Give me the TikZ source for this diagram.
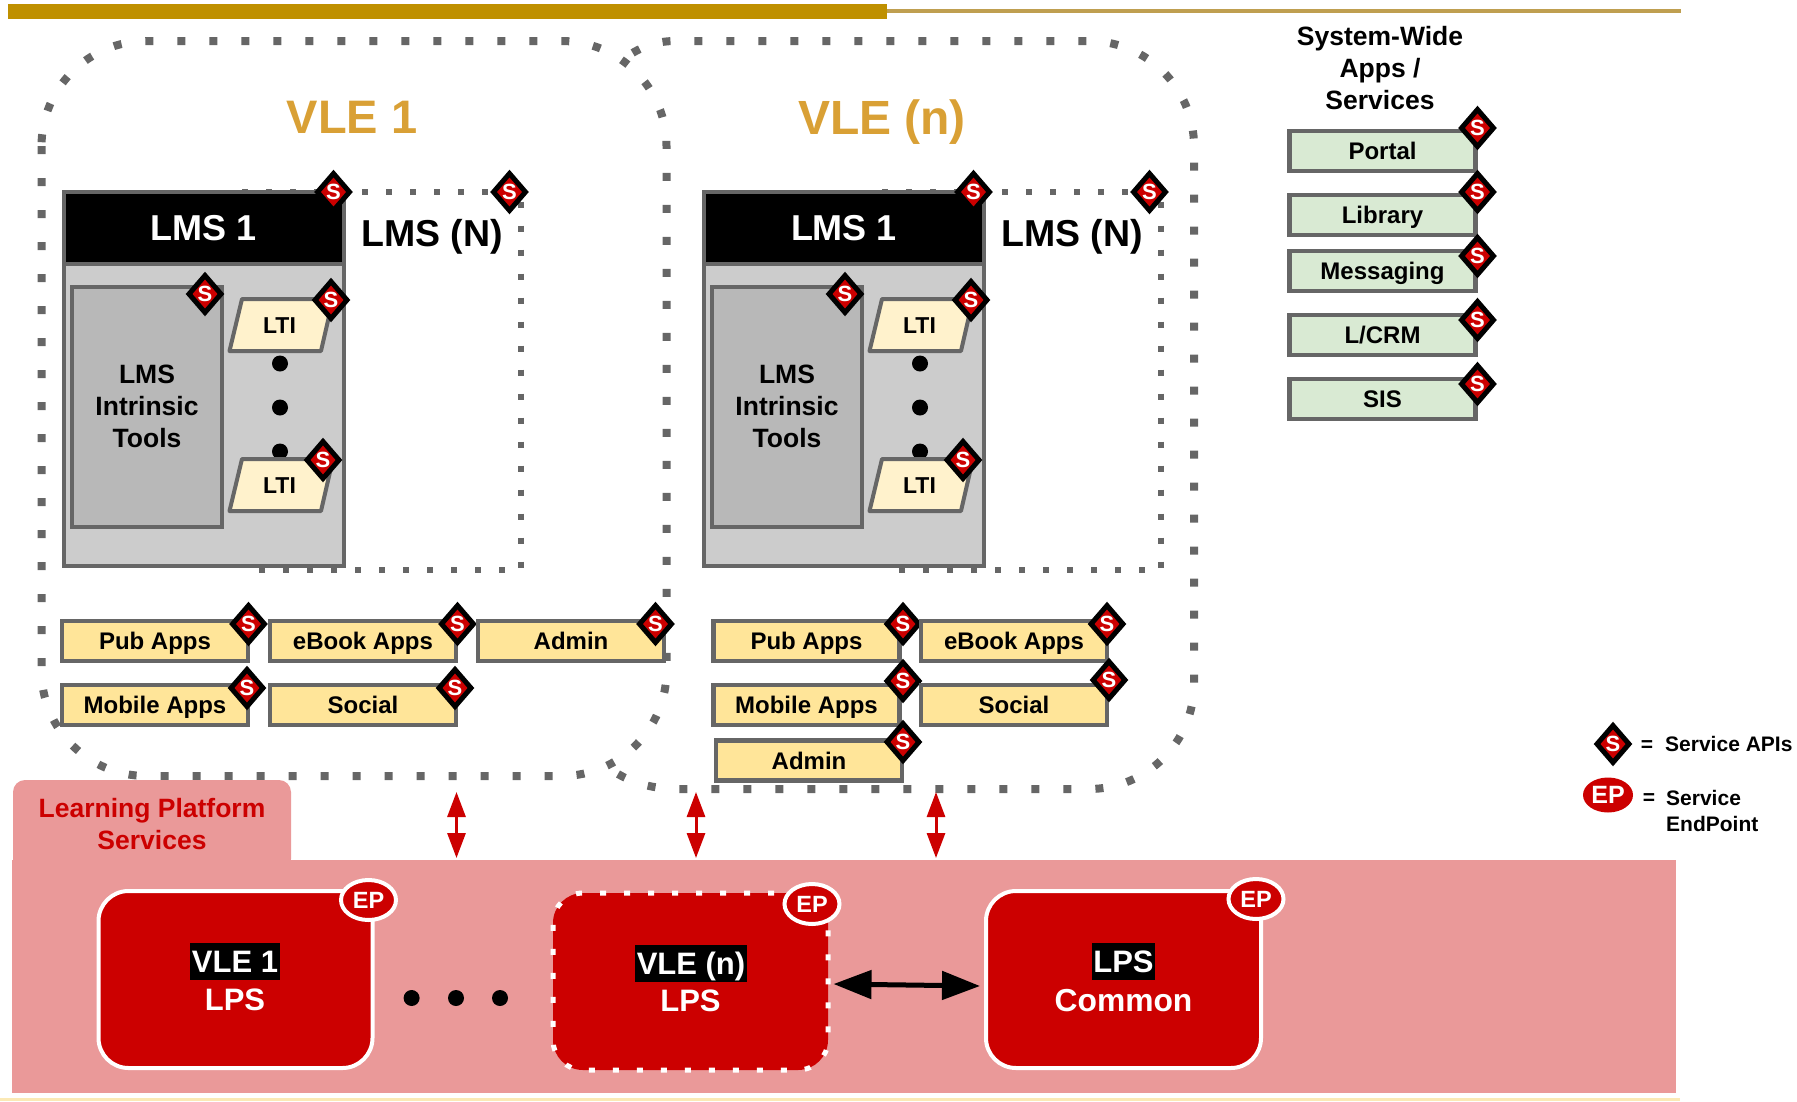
\documentclass[tikz,border=0pt]{standalone}
\usepackage{fontspec}
\setmainfont{Liberation Sans}
\usetikzlibrary{shapes.geometric,arrows.meta}
\definecolor{dotgray}{HTML}{666666}
\definecolor{lpsred}{HTML}{CC0000}
\definecolor{panelred}{HTML}{EA9999}
\definecolor{goldbar}{HTML}{BF9000}
\definecolor{goldthin}{HTML}{BF9F50}
\definecolor{vlegold}{HTML}{D9A035}
\definecolor{yellowapp}{HTML}{FFE599}
\definecolor{paleyellow}{HTML}{FFF2CC}
\definecolor{paleline}{HTML}{FBE9B5}
\definecolor{greenapp}{HTML}{D9EAD3}
\newcommand{\fs}[1]{\fontsize{#1}{#1}\selectfont\bfseries}
\tikzset{
  cap/.style={font=\fs{#1},text height=0.716*#1 pt,text depth=0pt},
  vledots/.style={draw=dotgray,line width=8pt,dash pattern=on 8pt off 24pt},
  lmsdots/.style={draw=dotgray,line width=6pt,dash pattern=on 6pt off 18pt},
  sbadge/.style={diamond,draw=black,fill=lpsred,line width=5pt,minimum width=34pt,minimum height=39pt,inner sep=0pt,text=white,cap=22},
  epbadge/.style={ellipse,draw=white,fill=lpsred,line width=4pt,minimum width=55pt,minimum height=40pt,inner sep=0pt,text=white,cap=23.5},
  appbox/.style={rectangle,draw=dotgray,line width=4.5pt,minimum width=186pt,minimum height=40pt,inner sep=0pt,text=black,cap=24},
  yapp/.style={appbox,fill=yellowapp},
  gapp/.style={appbox,fill=greenapp},
  lpsbox/.style={rectangle,rounded corners=30pt,fill=lpsred,draw=white,line width=4pt,inner sep=0pt},
  lpstext/.style={text=white,cap=31,inner sep=0pt},
  lpshead/.style={lpstext,fill=black,minimum height=37pt,inner xsep=1.5pt},
  ltibox/.style={draw=dotgray,line width=4pt,fill=paleyellow,line join=round},
  blackdot/.style={circle,fill=black,minimum size=16pt,inner sep=0pt},
  redarrow/.style={draw=lpsred,line width=3pt,{Triangle[length=25pt,width=18pt]}-{Triangle[length=25pt,width=18pt]}},
  plain/.style={text=black,inner sep=0pt}
}
\newcommand{\sbd}[3]{\node[sbadge] (#1) at (#2,#3) {S};}
\newcommand{\lmsblock}[2]{%
\begin{scope}[xshift=#1pt]
  \draw[lmsdots] (242,191) -- (520.5,191) -- (520.5,569) -- (242,569);
  \node[rectangle,draw=dotgray,fill=black!20,line width=4.5pt,minimum width=280pt,minimum height=374pt,inner sep=0pt] (lmsbody#2) at (204,378) {};
  \node[rectangle,draw=dotgray,fill=black,line width=4.5pt,minimum width=280pt,minimum height=72pt,inner sep=0pt,text=white,cap=36] (lmshead#2) at (204,227) {LMS 1};
  \node[plain,cap=37.5] (lmsn#2) at (432,232) {LMS (N)};
  \node[rectangle,draw=dotgray,fill=black!28,line width=4pt,minimum width=150pt,minimum height=240pt,inner sep=0pt] (tools#2) at (147,405.5) {};
  \node[plain,cap=26.5] (toolsa#2) at (147,373) {LMS};
  \node[plain,cap=26.5] (toolsb#2) at (147,405) {Intrinsic};
  \node[plain,cap=26.5] (toolsc#2) at (147,437) {Tools};
  \draw[ltibox] (242,298) -- (333,298) -- (321,350) -- (229.5,350) -- cycle;
  \node[plain,cap=23] (ltia#2) at (279.5,324.5) {LTI};
  \node[blackdot] (dota#2) at (280,362.5) {};
  \node[blackdot] (dotb#2) at (280,406.5) {};
  \node[blackdot] (dotc#2) at (280,450.5) {};
  \draw[ltibox] (242,458) -- (333,458) -- (321,510) -- (229.5,510) -- cycle;
  \node[plain,cap=23] (ltib#2) at (279.5,484.5) {LTI};
  \sbd{slms#2}{333.5}{191}
  \sbd{slmsn#2}{509.5}{191}
  \sbd{stools#2}{205}{293}
  \sbd{sltia#2}{331}{299}
  \sbd{sltib#2}{323}{459}
\end{scope}}
\begin{document}
\begin{tikzpicture}[x=1pt,y=-1pt]
\useasboundingbox (0,-1) rectangle (1797,1100);
% top bars
\fill[goldthin] (887,8) rectangle (1681,12);
\fill[goldbar] (8,2.5) rectangle (887,17.5);
% VLE outlines
\draw[vledots,rounded corners=105pt] (41.5,40) rectangle (666.5,775);
\draw[vledots] (618,773) .. controls (635,783) and (655,788) .. (679,788) -- (1089,788) .. controls (1147,788) and (1194,741) .. (1194,683) -- (1194,145) .. controls (1194,87) and (1147,40) .. (1089,40) -- (675,40) .. controls (655,40) and (638,47) .. (622,59);
\node[text=vlegold,cap=47,inner sep=0pt] (vlea) at (352,116) {VLE 1};
\node[text=vlegold,cap=48,inner sep=0pt] (vlen) at (882,116) {VLE (n)};
\lmsblock{0}{a}
\lmsblock{640}{b}
% apps VLE 1
\node[yapp] (pubA) at (155,640) {Pub Apps}; \sbd{spubA}{248.5}{623}
\node[yapp] (ebookA) at (363,640) {eBook Apps}; \sbd{sebookA}{457.5}{623}
\node[yapp] (adminA) at (571,640) {Admin}; \sbd{sadminA}{655.5}{623}
\node[yapp] (mobA) at (155,704) {Mobile Apps}; \sbd{smobA}{247}{687}
\node[yapp] (socA) at (363,704) {Social}; \sbd{ssocA}{455}{687}
% apps VLE n
\node[yapp] (pubB) at (806.5,640) {Pub Apps}; \sbd{spubB}{903}{623}
\node[yapp] (ebookB) at (1014,640) {eBook Apps}; \sbd{sebookB}{1107}{623}
\node[yapp] (mobB) at (806.5,704) {Mobile Apps}; \sbd{smobB}{903}{680}
\node[yapp] (socB) at (1014,704) {Social}; \sbd{ssocB}{1109}{679}
\node[yapp] (adminB) at (809,759.5) {Admin}; \sbd{sadminB}{903}{741}
% system wide
\node[plain,cap=26.5] (swa) at (1380,35) {System-Wide};
\node[plain,cap=26.5] (swb) at (1380,67) {Apps /};
\node[plain,cap=26.5] (swc) at (1380,99) {Services};
\node[gapp] (portal) at (1382.5,150) {Portal}; \sbd{sportal}{1477.5}{127}
\node[gapp] (library) at (1382.5,214) {Library}; \sbd{slibrary}{1477.5}{191}
\node[gapp] (messaging) at (1382.5,270) {Messaging}; \sbd{smessaging}{1477.5}{255}
\node[gapp] (lcrm) at (1382.5,334) {L/CRM}; \sbd{slcrm}{1477.5}{319}
\node[gapp] (sis) at (1382.5,398) {SIS}; \sbd{ssis}{1477.5}{383}
% legend
\sbd{slegend}{1613}{743}
\node[plain,cap=21] (eqa) at (1647,743) {=};
\node[plain,cap=21,anchor=west] (sapi) at (1665,743) {Service APIs};
\node[ellipse,fill=lpsred,minimum width=50pt,minimum height=35pt,inner sep=0pt,text=white,cap=25] (eplegend) at (1608,794) {EP};
\node[plain,cap=21] (eqb) at (1649,796) {=};
\node[plain,cap=21,anchor=west] (sep) at (1666,797) {Service};
\node[plain,cap=21,anchor=west] (endp) at (1666,823) {EndPoint};
% learning platform services
\fill[panelred,rounded corners=12pt] (13,870) -- (13,779) -- (291,779) -- (291,870) -- cycle;
\node[rectangle,fill=panelred,minimum width=1664pt,minimum height=233pt,inner sep=0pt] (panel) at (844,975.5) {};
\draw[color=paleline,line width=3pt] (0,1098.5) -- (1680,1098.5);
\node[text=lpsred,cap=26.5,inner sep=0pt] (lpta) at (152,807) {Learning Platform};
\node[text=lpsred,cap=26.5,inner sep=0pt] (lptb) at (152,839) {Services};
% LPS boxes
\node[lpsbox,minimum width=274pt,minimum height=177pt] (lpsa) at (235.5,978.5) {};
\node[lpsbox,minimum width=275pt,minimum height=177pt,line width=5pt,dash pattern=on 6pt off 18pt] (lpsn) at (690.5,980.5) {};
\node[lpsbox,minimum width=275pt,minimum height=177pt] (lpsc) at (1123.5,978.5) {};
\node[lpshead] (lpsah) at (235,960.5) {VLE 1};
\node[lpstext] (lpsat) at (235,998) {LPS};
\node[lpshead] (lpsnh) at (691,962.5) {VLE (n)};
\node[lpstext] (lpsnt) at (690.5,999) {LPS};
\node[lpshead] (lpsch) at (1123.5,960.5) {LPS};
\node[lpstext,cap=31.8] (lpsct) at (1123.5,999) {Common};
\node[epbadge] (epa) at (368.5,899) {EP};
\node[epbadge] (epn) at (812,903) {EP};
\node[epbadge] (epc) at (1256,898) {EP};
\node[blackdot] (da) at (411.6,997) {};
\node[blackdot] (db) at (456,997) {};
\node[blackdot] (dc) at (500,997) {};
% arrows
\coordinate (aat) at (456.5,791); \coordinate (aab) at (456.5,857);
\coordinate (abt) at (696,791); \coordinate (abb) at (696,857);
\coordinate (act) at (936,791); \coordinate (acb) at (936,857);
\draw[redarrow] (aat) -- (aab);
\draw[redarrow] (abt) -- (abb);
\draw[redarrow] (act) -- (acb);
\draw[black,line width=5pt,{Triangle[length=38pt,width=28pt]}-{Triangle[length=38pt,width=28pt]}] ([xshift=3pt,yshift=-2.5pt]lpsn.east) -- ([xshift=-4pt,yshift=-6.5pt]lpsc.west);
\end{tikzpicture}
\end{document}
